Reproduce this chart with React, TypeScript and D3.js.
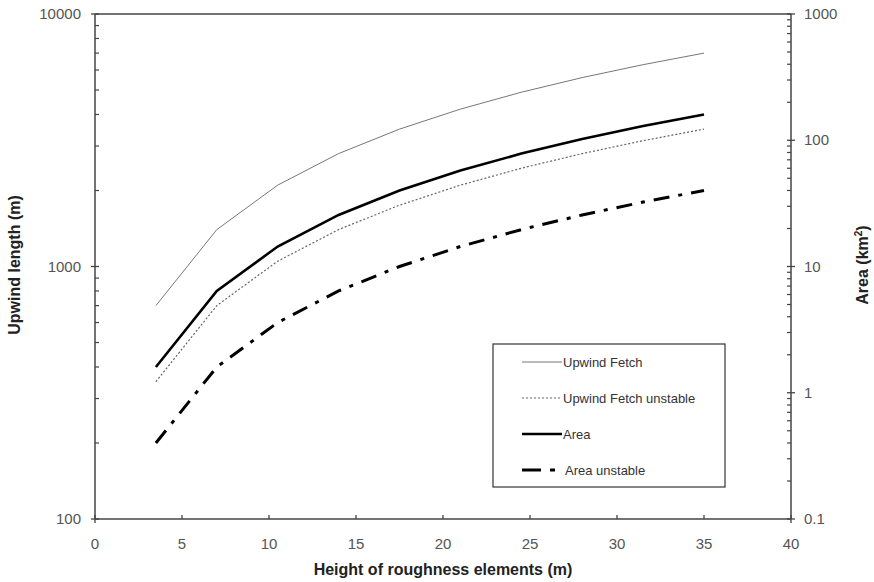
import React from "react";
import * as d3 from "d3";

// Height of roughness elements (m)
const heights = [3.5, 7, 10.5, 14, 17.5, 21, 24.5, 28, 31.5, 35];
// Upwind length (m), left axis
const upwindFetch = [700, 1400, 2100, 2800, 3500, 4200, 4900, 5600, 6300, 7000];
const upwindFetchUnstable = [350, 700, 1050, 1400, 1750, 2100, 2450, 2800, 3150, 3500];
// Area (km²), right axis
const area = [1.6, 6.4, 14.4, 25.6, 40, 57.6, 78.4, 102.4, 129.6, 160];
const areaUnstable = [0.4, 1.6, 3.6, 6.4, 10, 14.4, 19.6, 25.6, 32.4, 40];

const xTicks = [0, 5, 10, 15, 20, 25, 30, 35, 40];
const leftTicks = [100, 1000, 10000];
const rightTicks = [0.1, 1, 10, 100, 1000];

const W = 874;
const H = 582;
const M = { left: 95, right: 791, top: 14, bottom: 519 };
const FONT = "Arial, 'Liberation Sans', sans-serif";
const AXIS = "#444";
const TICKTXT = "#555";
const TICK_FS = 15;

const x = d3.scaleLinear().domain([0, 40]).range([M.left, M.right]);
const yL = d3.scaleLog().domain([100, 10000]).range([M.bottom, M.top]);
const yR = d3.scaleLog().domain([0.1, 1000]).range([M.bottom, M.top]);

function minorTicks(domain: [number, number]) {
  const out: number[] = [];
  for (let d = domain[0]; d < domain[1]; d *= 10) {
    for (let k = 2; k <= 9; k++) out.push(d * k);
  }
  return out;
}

const lineL = d3
  .line<number>()
  .x((_, i) => x(heights[i]))
  .y((v) => yL(v));
const lineR = d3
  .line<number>()
  .x((_, i) => x(heights[i]))
  .y((v) => yR(v));

const series = [
  { name: "Upwind Fetch", d: lineL(upwindFetch), stroke: "#777", width: 1, dash: undefined as string | undefined },
  { name: "Upwind Fetch unstable", d: lineL(upwindFetchUnstable), stroke: "#666", width: 1.2, dash: "2,2" },
  { name: "Area", d: lineR(area), stroke: "#000", width: 2.6, dash: undefined },
  { name: "Area unstable", d: lineR(areaUnstable), stroke: "#000", width: 3, dash: "16,9,4,9" },
];

export default function App() {
  const lx = 493;
  const ly = 344;
  const lw = 232;
  const lh = 143;
  return (
    <svg width={W} height={H} style={{ position: "absolute", left: 0, top: 0, background: "#fff" }} fontFamily={FONT}>
      <rect x={0} y={0} width={W} height={H} fill="#fff" />

      {/* data lines */}
      {series.map((s) => (
        <path key={s.name} d={s.d || ""} fill="none" stroke={s.stroke} strokeWidth={s.width} strokeDasharray={s.dash} />
      ))}

      {/* frame */}
      <line x1={M.left} x2={M.right} y1={M.top} y2={M.top} stroke={AXIS} strokeWidth={1.5} />
      <line x1={M.left} x2={M.right} y1={M.bottom} y2={M.bottom} stroke={AXIS} strokeWidth={1.5} />
      <line x1={M.left} x2={M.left} y1={M.top} y2={M.bottom} stroke={AXIS} strokeWidth={1.5} />
      <line x1={M.right} x2={M.right} y1={M.top} y2={M.bottom} stroke={AXIS} strokeWidth={1.5} />

      {/* x axis */}
      {xTicks.map((t) => (
        <g key={t}>
          <line x1={x(t)} x2={x(t)} y1={M.bottom - 4} y2={M.bottom + (t === 0 || t === 40 ? 4 : 0)} stroke={AXIS} strokeWidth={1.3} />
          <text x={x(t)} y={549} textAnchor="middle" fontSize={TICK_FS} fill={TICKTXT}>
            {t}
          </text>
        </g>
      ))}

      {/* left axis */}
      {minorTicks([100, 10000]).map((t) => (
        <line key={"lm" + t} x1={M.left} x2={M.left + 4} y1={yL(t)} y2={yL(t)} stroke={AXIS} strokeWidth={1.2} />
      ))}
      {leftTicks.map((t) => (
        <g key={"l" + t}>
          <line x1={M.left - 4} x2={M.left + 4} y1={yL(t)} y2={yL(t)} stroke={AXIS} strokeWidth={1.3} />
          <text x={81} y={yL(t) + 5} textAnchor="end" fontSize={TICK_FS} fill={TICKTXT}>
            {t}
          </text>
        </g>
      ))}

      {/* right axis */}
      {minorTicks([0.1, 1000]).map((t) => (
        <line key={"rm" + t} x1={M.right - 4} x2={M.right} y1={yR(t)} y2={yR(t)} stroke={AXIS} strokeWidth={1.2} />
      ))}
      {rightTicks.map((t) => (
        <g key={"r" + t}>
          <line x1={M.right - 4} x2={M.right + 4} y1={yR(t)} y2={yR(t)} stroke={AXIS} strokeWidth={1.3} />
          <text x={804} y={yR(t) + 5} textAnchor="start" fontSize={TICK_FS} fill={TICKTXT}>
            {t}
          </text>
        </g>
      ))}

      {/* axis titles */}
      <text x={443} y={575} textAnchor="middle" fontSize={16} fontWeight="bold" fill="#222">
        Height of roughness elements (m)
      </text>
      <text transform="translate(20,265) rotate(-90)" textAnchor="middle" fontSize={16} fontWeight="bold" fill="#222">
        Upwind length (m)
      </text>
      <text transform="translate(868,265) rotate(-90)" textAnchor="middle" fontSize={16} fontWeight="bold" fill="#222">
        Area (km<tspan dy={-6} fontSize={10}>2</tspan>
        <tspan dy={6}>)</tspan>
      </text>

      {/* legend */}
      <rect x={lx} y={ly} width={lw} height={lh} fill="#fff" stroke={AXIS} strokeWidth={1.3} />
      {series.map((s, i) => {
        const yy = 362 + i * 36;
        return (
          <g key={"lg" + s.name}>
            {s.name === "Area unstable" ? (
              <>
                <line x1={522} x2={541} y1={yy} y2={yy} stroke="#000" strokeWidth={3} />
                <line x1={550} x2={555} y1={yy} y2={yy} stroke="#000" strokeWidth={3} />
              </>
            ) : (
              <line x1={522} x2={562} y1={yy} y2={yy} stroke={s.stroke} strokeWidth={s.width} strokeDasharray={s.dash} />
            )}
            <text x={s.name === "Area unstable" ? 565 : 563} y={yy + 4.5} fontSize={13} fill="#333">
              {s.name}
            </text>
          </g>
        );
      })}
    </svg>
  );
}
